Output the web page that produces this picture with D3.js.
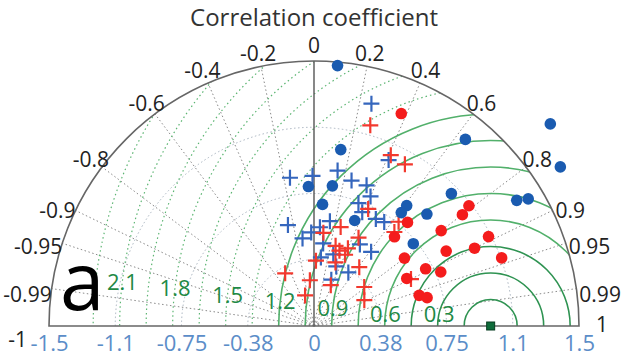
<!DOCTYPE html>
<html>
<head>
<meta charset="utf-8">
<script src="https://cdn.jsdelivr.net/npm/d3@7"></script>
<style>
  body { margin: 0; background: #fff; }
  svg { display: block; font-family: "Open Sans", sans-serif; }
</style>
</head>
<body>
<svg id="chart" width="635" height="361"></svg>
<script>
// normalised standard deviation (reference = 1) and correlation of each group
const blueDotStd  = [1.48, 1.76, 1.66, 1.36, 1.01, 1.08, 1.35, 1.41, 0.86, 0.81, 0.90, 0.73, 0.79, 0.80, 0.69, 0.64];
const blueDotCorr = [0.09, 0.76, 0.84, 0.63, 0.15, 0.72, 0.85, 0.86, 0.61, 0.61, 0.71, 0.77, -0.04, 0.13, 0.07, 0.36];

const redDotStd  = [1.30, 1.11, 1.05, 0.79, 0.68, 0.90, 1.11, 0.86, 1.01, 1.13, 0.64, 0.71, 0.78, 0.59, 0.62, 0.66];
const redDotCorr = [0.38, 0.79, 0.80, 0.67, 0.67, 0.80, 0.89, 0.87, 0.90, 0.94, 0.80, 0.89, 0.92, 0.89, 0.96, 0.97];

const bluePlusStd  = [1.30, 1.03, 0.89, 0.85, 0.85, 0.85, 0.85, 0.80, 0.74, 0.70, 0.70, 0.71, 0.60, 0.56, 0.53, 0.50, 0.59, 0.47, 0.42, 0.53, 0.53, 0.39, 0.36, 0.28, 0.36];
const bluePlusCorr = [0.25, 0.41, 0.15, -0.01, -0.16, 0.25, 0.35, 0.40, 0.34, 0.39, 0.50, 0.56, 0.15, 0.06, -0.03, -0.13, -0.25, 0.11, 0.26, 0.49, 0.61, 0.10, 0.35, 0.35, 0.54];

const redPlusStd  = [1.18, 1.06, 1.05, 0.73, 0.58, 0.53, 0.56, 0.45, 0.44, 0.37, 0.38, 0.42, 0.26, 0.25, 0.36, 0.76, 0.70, 0.61, 0.18, 0.34, 0.32, 0.48, 0.47];
const redPlusCorr = [0.27, 0.41, 0.49, 0.42, 0.26, 0.10, 0.45, 0.32, 0.40, 0.03, 0.32, 0.61, -0.09, 0.38, 0.79, 0.63, 0.65, 0.90, -0.28, -0.48, 0.89, 0.40, 0.26];

const refStd = 1.0;

const stdTicks = [-1.5, -1.125, -0.75, -0.375, 0, 0.375, 0.75, 1.125, 1.5];
const stdTickLabels = ["-1.5", "-1.1", "-0.75", "-0.38", "0", "0.38", "0.75", "1.1", "1.5"];
const stdCircles = [0.375, 0.75, 1.125];
const corrTicks = [-0.99, -0.95, -0.9, -0.8, -0.6, -0.4, -0.2, 0, 0.2, 0.4, 0.6, 0.8, 0.9, 0.95, 0.99];
const rmsSolid = [0.15, 0.3, 0.45, 0.6, 0.75, 0.9, 1.05, 1.2];
const rmsDotted = [1.35, 1.5, 1.65, 1.8, 1.95, 2.1, 2.25];
const rmsLabels = [0.3, 0.6, 0.9, 1.2, 1.5, 1.8, 2.1];

const svg = d3.select("#chart");
const cx = 314, cy = 326, R = 265;

const r = d3.scaleLinear().domain([0, 1.5]).range([0, R]);
const x = d3.scaleLinear().domain([-1.5, 1.5]).range([cx - R, cx + R]);
const px = (s, c) => cx + r(s) * c;
const py = (s, c) => cy - r(s) * Math.sqrt(1 - c * c);
const refX = x(refStd);

svg.append("clipPath").attr("id", "half")
  .append("path")
  .attr("d", `M${cx - R},${cy}A${R},${R} 0 0 1 ${cx + R},${cy}Z`);

const grid = svg.append("g");

// std dotted arcs
grid.selectAll(".sd")
  .data(stdCircles)
  .join("path")
  .attr("d", d => `M${cx - r(d)},${cy}A${r(d)},${r(d)} 0 0 1 ${cx + r(d)},${cy}`)
  .attr("fill", "none")
  .attr("stroke", "#a9b4c0")
  .attr("stroke-width", 1)
  .attr("stroke-dasharray", "1.5,2.5");

// correlation rays
grid.selectAll(".ray")
  .data(corrTicks.filter(c => c !== 0))
  .join("line")
  .attr("x1", cx).attr("y1", cy)
  .attr("x2", d => px(1.5, d)).attr("y2", d => py(1.5, d))
  .attr("stroke", "#8a8a8a")
  .attr("stroke-width", 1)
  .attr("stroke-dasharray", "1.5,2.5");

// RMS circles around the reference point
const rms = svg.append("g").attr("clip-path", "url(#half)");
rms.selectAll(".rmsd")
  .data(rmsDotted)
  .join("circle")
  .attr("cx", refX).attr("cy", cy).attr("r", d => r(d))
  .attr("fill", "none")
  .attr("stroke", "#5cb572")
  .attr("stroke-width", 1.2)
  .attr("stroke-dasharray", "1.5,3");
rms.selectAll(".rmss")
  .data(rmsSolid)
  .join("circle")
  .attr("cx", refX).attr("cy", cy).attr("r", d => r(d))
  .attr("fill", "none")
  .attr("stroke", (d, i) => i < 3 ? "#2f9352" : "#52b06b")
  .attr("stroke-width", 1.6);

// zero-correlation axis and frame
svg.append("line")
  .attr("x1", cx).attr("y1", cy).attr("x2", cx).attr("y2", cy - R)
  .attr("stroke", "#555").attr("stroke-width", 1.4);
svg.append("path")
  .attr("d", `M${cx - R},${cy}A${R},${R} 0 0 1 ${cx + R},${cy}Z`)
  .attr("fill", "none")
  .attr("stroke", "#666")
  .attr("stroke-width", 1.6);

// RMS labels
const labAng = 7 * Math.PI / 180;
svg.selectAll(".rmsl")
  .data(rmsLabels)
  .join("text")
  .attr("x", d => refX - r(d) * Math.cos(d === 0.3 ? 2 * labAng : labAng))
  .attr("y", d => cy - r(d) * Math.sin(d === 0.3 ? 2 * labAng : labAng))
  .attr("text-anchor", "middle")
  .attr("dominant-baseline", "central")
  .attr("font-size", 22)
  .attr("fill", "#1f8a45")
  .text(d => d);

// std axis labels along the base line
const axis = svg.append("g")
  .attr("transform", `translate(0,${cy})`)
  .call(d3.axisBottom(x)
    .tickValues(stdTicks)
    .tickFormat((d, i) => stdTickLabels[i])
    .tickSize(0)
    .tickPadding(9));
axis.select(".domain").remove();
axis.selectAll("text")
  .attr("font-family", "Open Sans, sans-serif")
  .attr("font-size", 22)
  .attr("fill", "#5b8dc8");

// correlation labels round the arc
const corrLab = svg.append("g");
corrTicks.forEach(c => {
  const t = corrLab.append("text")
    .attr("font-size", 21)
    .attr("fill", "#222")
    .attr("dominant-baseline", "central")
    .text(c);
  const a = Math.abs(c);
  if (a >= 0.9) {
    t.attr("text-anchor", c > 0 ? "start" : "end")
     .attr("x", px(1.5, c) + (c > 0 ? 3 : 0))
     .attr("y", py(1.5, c) + (a - 0.9) * 60);
  } else {
    t.attr("text-anchor", "middle")
     .attr("x", cx + (R + 14) * c)
     .attr("y", cy - (R + (c === 0 ? 16 : 14)) * Math.sqrt(1 - c * c));
  }
});
svg.append("text")
  .attr("x", cx + R + 17).attr("y", cy + 6)
  .attr("font-size", 21).attr("fill", "#222")
  .text("1");
svg.append("text")
  .attr("x", cx - R - 22).attr("y", cy + 21)
  .attr("text-anchor", "end")
  .attr("font-size", 21).attr("fill", "#222")
  .text("-1");

svg.append("text")
  .attr("x", cx).attr("y", 26)
  .attr("text-anchor", "middle")
  .attr("font-size", 24)
  .attr("fill", "#333")
  .text("Correlation coefficient");

svg.append("text")
  .attr("x", 60).attr("y", 310)
  .attr("font-size", 80)
  .attr("fill", "#000")
  .text("a");

// markers
const plus = "M-8,0H8M0,-8V8";
function pluses(std, corr, color) {
  svg.append("g").selectAll("path")
    .data(std.map((s, i) => [s, corr[i]]))
    .join("path")
    .attr("d", plus)
    .attr("transform", d => `translate(${px(d[0], d[1])},${py(d[0], d[1])})`)
    .attr("stroke", color)
    .attr("stroke-width", 2.2)
    .attr("fill", "none");
}
function dots(std, corr, color) {
  svg.append("g").selectAll("circle")
    .data(std.map((s, i) => [s, corr[i]]))
    .join("circle")
    .attr("cx", d => px(d[0], d[1]))
    .attr("cy", d => py(d[0], d[1]))
    .attr("r", 5.8)
    .attr("fill", color);
}
pluses(bluePlusStd, bluePlusCorr, "#3566bd");
pluses(redPlusStd, redPlusCorr, "#f2392e");
dots(blueDotStd, blueDotCorr, "#1a5bb0");
dots(redDotStd, redDotCorr, "#f41c1c");

// reference point
svg.append("rect")
  .attr("x", refX - 4).attr("y", cy - 4)
  .attr("width", 8).attr("height", 8)
  .attr("fill", "#0e6b3a")
  .attr("stroke", "#073d20")
  .attr("stroke-width", 1);
</script>
</body>
</html>
